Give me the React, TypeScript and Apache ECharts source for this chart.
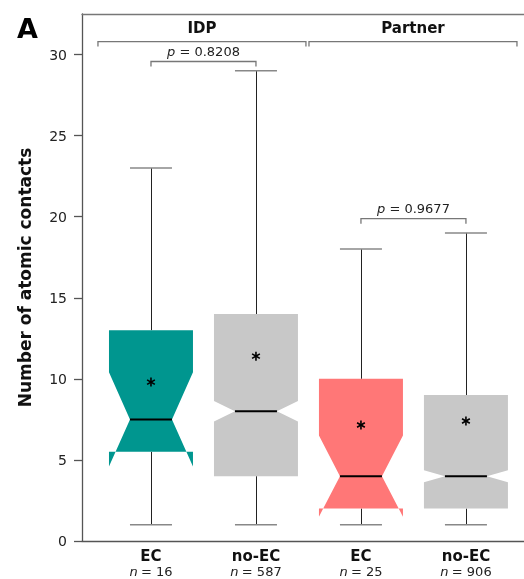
import React, { useEffect, useRef } from "react";
import * as echarts from "echarts";

const categories = ["EC", "no-EC", "EC", "no-EC"];
const counts = [16, 587, 25, 906];
const positions = [1, 2, 3, 4];
const whiskerLow = [1, 1, 1, 1];
const q1 = [5.5, 4, 2, 2];
const notchLow = [4.6, 7.37, 1.5, 3.63];
const median = [7.5, 8, 4, 4];
const notchHigh = [10.4, 8.63, 6.5, 4.37];
const q3 = [13, 14, 10, 9];
const whiskerHigh = [23, 29, 18, 19];
const means = [9.8, 11.4, 7.15, 7.4];
const boxColors = ["#00968f", "#c8c8c8", "#ff7777", "#c8c8c8"];

const groups = ["IDP", "Partner"];
const groupSpans = [
  [0.495, 2.476],
  [2.505, 4.486],
];
const groupBracketY = 30.8;

const pValues = ["0.8208", "0.9677"];
const pPairs = [
  [1, 2],
  [3, 4],
];
const pBracketY = [29.57, 19.88];

const yTicks = [0, 5, 10, 15, 20, 25, 30];
const FONT = "DejaVu Sans";

export default function App() {
  const ref = useRef<HTMLDivElement>(null);
  useEffect(() => {
    if (!ref.current) return;
    const chart = echarts.init(ref.current, undefined, { renderer: "svg" });

    const boxData = positions.map((x, i) => [
      x,
      whiskerLow[i],
      q1[i],
      notchLow[i],
      median[i],
      notchHigh[i],
      q3[i],
      whiskerHigh[i],
      means[i],
    ]);

    const renderBox = (params: any, api: any) => {
      const i = params.dataIndex;
      const x = api.value(0);
      const wLo = api.value(1);
      const b1 = api.value(2);
      const nLo = api.value(3);
      const med = api.value(4);
      const nHi = api.value(5);
      const b3 = api.value(6);
      const wHi = api.value(7);
      const mean = api.value(8);
      const hw = 0.4;
      const iw = 0.2;
      const P = (dx: number, v: number) => api.coord([x + dx, v]);
      const pts = [
        P(-hw, b1),
        P(hw, b1),
        P(hw, nLo),
        P(iw, med),
        P(hw, nHi),
        P(hw, b3),
        P(-hw, b3),
        P(-hw, nHi),
        P(-iw, med),
        P(-hw, nLo),
      ];
      const c = P(0, mean);
      const r = 4.5;
      const star = [90, 30, 150].map((deg) => {
        const a = (deg * Math.PI) / 180;
        return {
          type: "line",
          shape: {
            x1: c[0] - r * Math.cos(a),
            y1: c[1] - r * Math.sin(a),
            x2: c[0] + r * Math.cos(a),
            y2: c[1] + r * Math.sin(a),
          },
          style: { stroke: "#000", lineWidth: 1.6 },
        };
      });
      const snap = (p: number[]) => [Math.round(p[0]) + 0.5, p[1]];
      const seg = (a: number[], b: number[], stroke: string, lw: number) => ({
        type: "line",
        shape: { x1: a[0], y1: a[1], x2: b[0], y2: b[1] },
        style: { stroke, lineWidth: lw },
      });
      return {
        type: "group",
        children: [
          seg(snap(P(0, b3)), snap(P(0, wHi)), "#222", 1),
          seg(snap(P(0, b1)), snap(P(0, wLo)), "#222", 1),
          seg(P(-iw, wHi), P(iw, wHi), "#888", 1.5),
          seg(P(-iw, wLo), P(iw, wLo), "#888", 1.5),
          {
            type: "polygon",
            shape: { points: pts },
            style: { fill: boxColors[i], stroke: "none" },
          },
          seg(P(-iw, med), P(iw, med), "#000", 2),
          ...star,
        ],
      };
    };

    const bracketData = [
      ...groupSpans.map((s) => [s[0], s[1], groupBracketY, 0]),
      ...pPairs.map((s, k) => [s[0], s[1], pBracketY[k], 1]),
    ];
    const bracketLabels = [
      ...groups,
      ...pValues.map((p) => "{i|p} = " + p),
    ];

    const renderBracket = (params: any, api: any) => {
      const i = params.dataIndex;
      const a = api.coord([api.value(0), api.value(2)]);
      const b = api.coord([api.value(1), api.value(2)]);
      const isP = api.value(3) === 1;
      const tick = 5;
      return {
        type: "group",
        children: [
          {
            type: "polyline",
            shape: {
              points: [
                [a[0], a[1] + tick],
                [a[0], a[1]],
                [b[0], b[1]],
                [b[0], b[1] + tick],
              ],
            },
            style: { stroke: "#777", lineWidth: 1.3, fill: "none" },
          },
          {
            type: "text",
            x: (a[0] + b[0]) / 2,
            y: a[1] - (isP ? 10 : 14),
            style: isP
              ? {
                  text: bracketLabels[i],
                  fill: "#222",
                  fontSize: 13,
                  fontFamily: FONT,
                  align: "center",
                  verticalAlign: "middle",
                  rich: {
                    i: { fontStyle: "italic", fontSize: 13, fontFamily: FONT, fill: "#222" },
                  },
                }
              : {
                  text: bracketLabels[i],
                  fill: "#111",
                  fontSize: 15,
                  fontWeight: "bold",
                  fontFamily: FONT,
                  align: "center",
                  verticalAlign: "middle",
                },
          },
        ],
      };
    };

    chart.setOption({
      animation: false,
      grid: {
        left: 82,
        right: 0,
        top: 14,
        bottom: 38,
        outerBoundsMode: "none",
        containLabel: false,
      },
      xAxis: [
        {
          type: "value",
          position: "bottom",
          min: 0.343,
          max: 4.553,
          splitLine: { show: false },
          axisTick: { show: false },
          axisLine: { show: true, onZero: false, lineStyle: { color: "#555", width: 1.3 } },
          axisLabel: {
            customValues: positions,
            margin: 7,
            formatter: (v: number) => {
              const k = Math.round(v) - 1;
              return "{b|" + categories[k] + "}\n{n|n} {m|= " + counts[k] + "}";
            },
            rich: {
              b: { fontSize: 15, fontWeight: "bold", fontFamily: FONT, color: "#111", lineHeight: 16 },
              n: { fontSize: 13, fontStyle: "italic", fontFamily: FONT, color: "#222", lineHeight: 14 },
              m: { fontSize: 13, fontFamily: FONT, color: "#222", lineHeight: 14 },
            },
          },
        },
        {
          type: "value",
          position: "top",
          min: 0.343,
          max: 4.553,
          splitLine: { show: false },
          axisTick: { show: false },
          axisLabel: { show: false },
          axisLine: { show: true, onZero: false, lineStyle: { color: "#777", width: 1.3 } },
        },
      ],
      yAxis: {
        type: "value",
        min: 0,
        max: 32.5,
        splitLine: { show: false },
        axisLine: { show: true, onZero: false, lineStyle: { color: "#555", width: 1.3 } },
        axisTick: {
          show: true,
          length: 8,
          customValues: yTicks,
          lineStyle: { color: "#555", width: 1.3 },
        },
        axisLabel: {
          customValues: yTicks,
          margin: 15,
          fontSize: 14,
          fontFamily: FONT,
          color: "#222",
        },
        name: "Number of atomic contacts",
        nameLocation: "middle",
        nameGap: 49,
        nameTextStyle: { fontSize: 17, fontWeight: "bold", fontFamily: FONT, color: "#111" },
      },
      graphic: [
        {
          type: "text",
          left: 17,
          top: 15,
          style: { text: "A", fontSize: 27, fontWeight: "bold", fontFamily: FONT, fill: "#000" },
        },
      ],
      series: [
        {
          type: "custom",
          renderItem: renderBox,
          data: boxData,
          encode: { x: 0, y: [1, 7] },
          clip: false,
          silent: true,
        },
        {
          type: "custom",
          renderItem: renderBracket,
          data: bracketData,
          encode: { x: [0, 1], y: 2 },
          clip: false,
          silent: true,
        },
      ],
    });
    return () => chart.dispose();
  }, []);
  return (
    <div
      ref={ref}
      style={{ position: "fixed", left: 0, top: 0, width: 524, height: 579 }}
    />
  );
}
